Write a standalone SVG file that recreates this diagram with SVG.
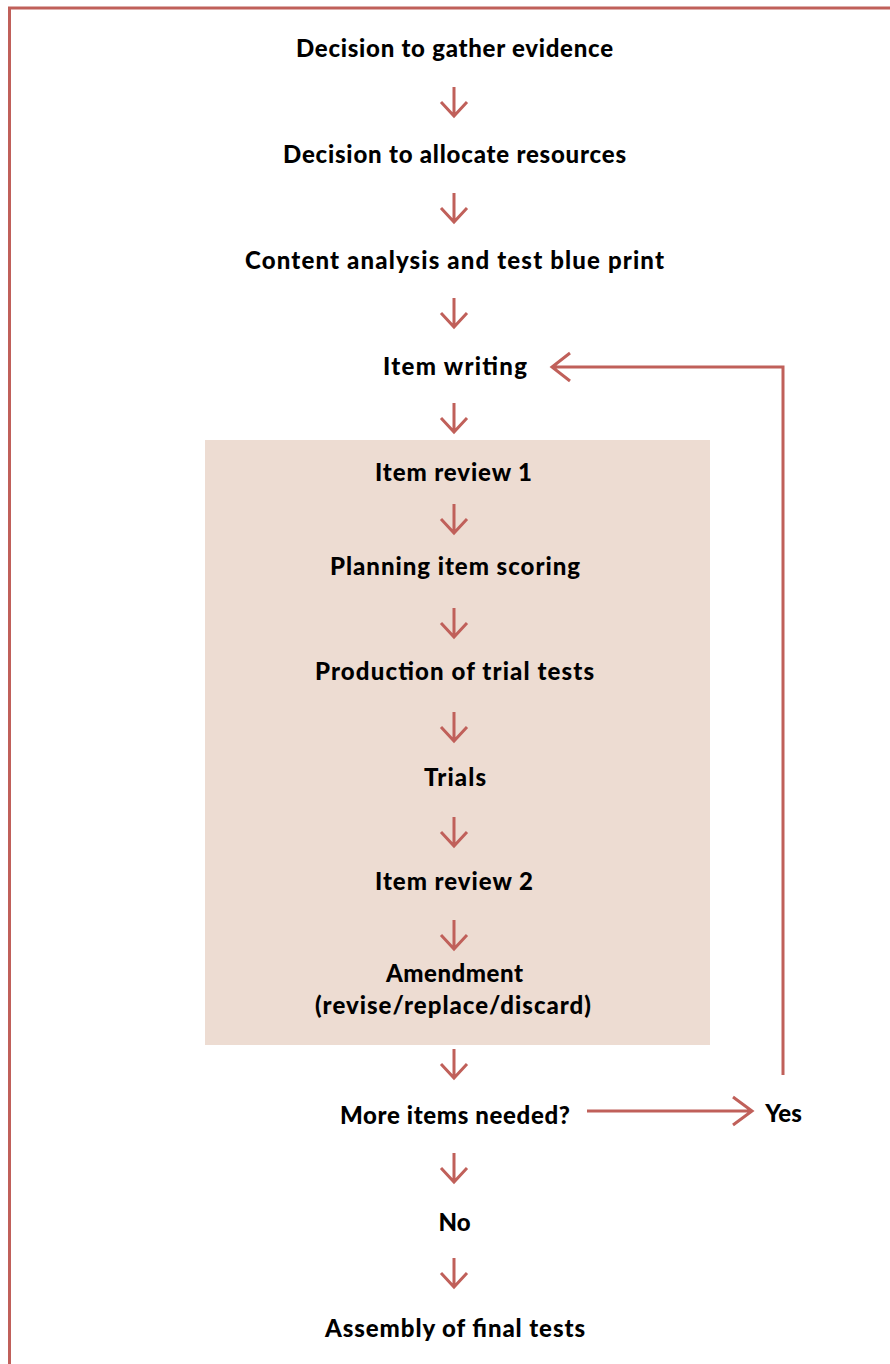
<svg xmlns="http://www.w3.org/2000/svg" width="890" height="1364" viewBox="0 0 890 1364">
<style>
.t{font-family:Lato,"Open Sans","Liberation Sans",sans-serif;font-weight:900;font-size:24px;fill:#000;text-anchor:middle}
.c{stroke:#c0605a;stroke-width:3;fill:none}
</style>
<defs>
<path id="dn" d="M0,-29V0M-13,-14L0,0L13,-14" class="c"/>
</defs>
<rect width="890" height="1364" fill="#fff"/>
<path d="M9.5,1364V8H890" class="c"/>
<rect x="205" y="440" width="505" height="605" fill="#eddcd2"/>
<g id="connectors">
<use href="#dn" x="454" y="116"/>
<use href="#dn" x="454" y="222"/>
<use href="#dn" x="454" y="327"/>
<use href="#dn" x="454" y="432"/>
<use href="#dn" x="454" y="533"/>
<use href="#dn" x="454" y="637"/>
<use href="#dn" x="454" y="741"/>
<use href="#dn" x="454" y="846"/>
<use href="#dn" x="454" y="949"/>
<use href="#dn" x="454" y="1078"/>
<use href="#dn" x="454" y="1182"/>
<use href="#dn" x="454" y="1287"/>
<path d="M783,1075V367H552M570,353L552,367L570,381" class="c"/>
<path d="M587,1111H752M733,1097L752,1111L733,1125" class="c"/>
</g>
<g id="n1"><text class="t" x="454.5" y="57" textLength="317" lengthAdjust="spacing">Decision to gather evidence</text></g>
<g id="n2"><text class="t" x="454.5" y="163" textLength="343" lengthAdjust="spacing">Decision to allocate resources</text></g>
<g id="n3"><text class="t" x="454.5" y="269" textLength="419" lengthAdjust="spacing">Content analysis and test blue print</text></g>
<g id="n4"><text class="t" x="455" y="375" textLength="144" lengthAdjust="spacing">Item writing</text></g>
<g id="n5"><text class="t" x="453.5" y="481" textLength="157" lengthAdjust="spacing">Item review 1</text></g>
<g id="n6"><text class="t" x="455" y="575" textLength="250" lengthAdjust="spacing">Planning item scoring</text></g>
<g id="n7"><text class="t" x="454.5" y="680" textLength="279" lengthAdjust="spacing">Production of trial tests</text></g>
<g id="n8"><text class="t" x="455" y="786" textLength="62" lengthAdjust="spacing">Trials</text></g>
<g id="n9"><text class="t" x="454" y="890" textLength="158" lengthAdjust="spacing">Item review 2</text></g>
<g id="n10"><text class="t" x="454.5" y="982" textLength="137" lengthAdjust="spacing">Amendment</text><text class="t" x="453" y="1014" textLength="276" lengthAdjust="spacing">(revise/replace/discard)</text></g>
<g id="n11"><text class="t" x="455" y="1124" textLength="230" lengthAdjust="spacing">More items needed?</text></g>
<g id="n12"><text class="t" x="783.5" y="1122">Yes</text></g>
<g id="n13"><text class="t" x="454.5" y="1231">No</text></g>
<g id="n14"><text class="t" x="455" y="1337" textLength="260" lengthAdjust="spacing">Assembly of final tests</text></g>
</svg>
